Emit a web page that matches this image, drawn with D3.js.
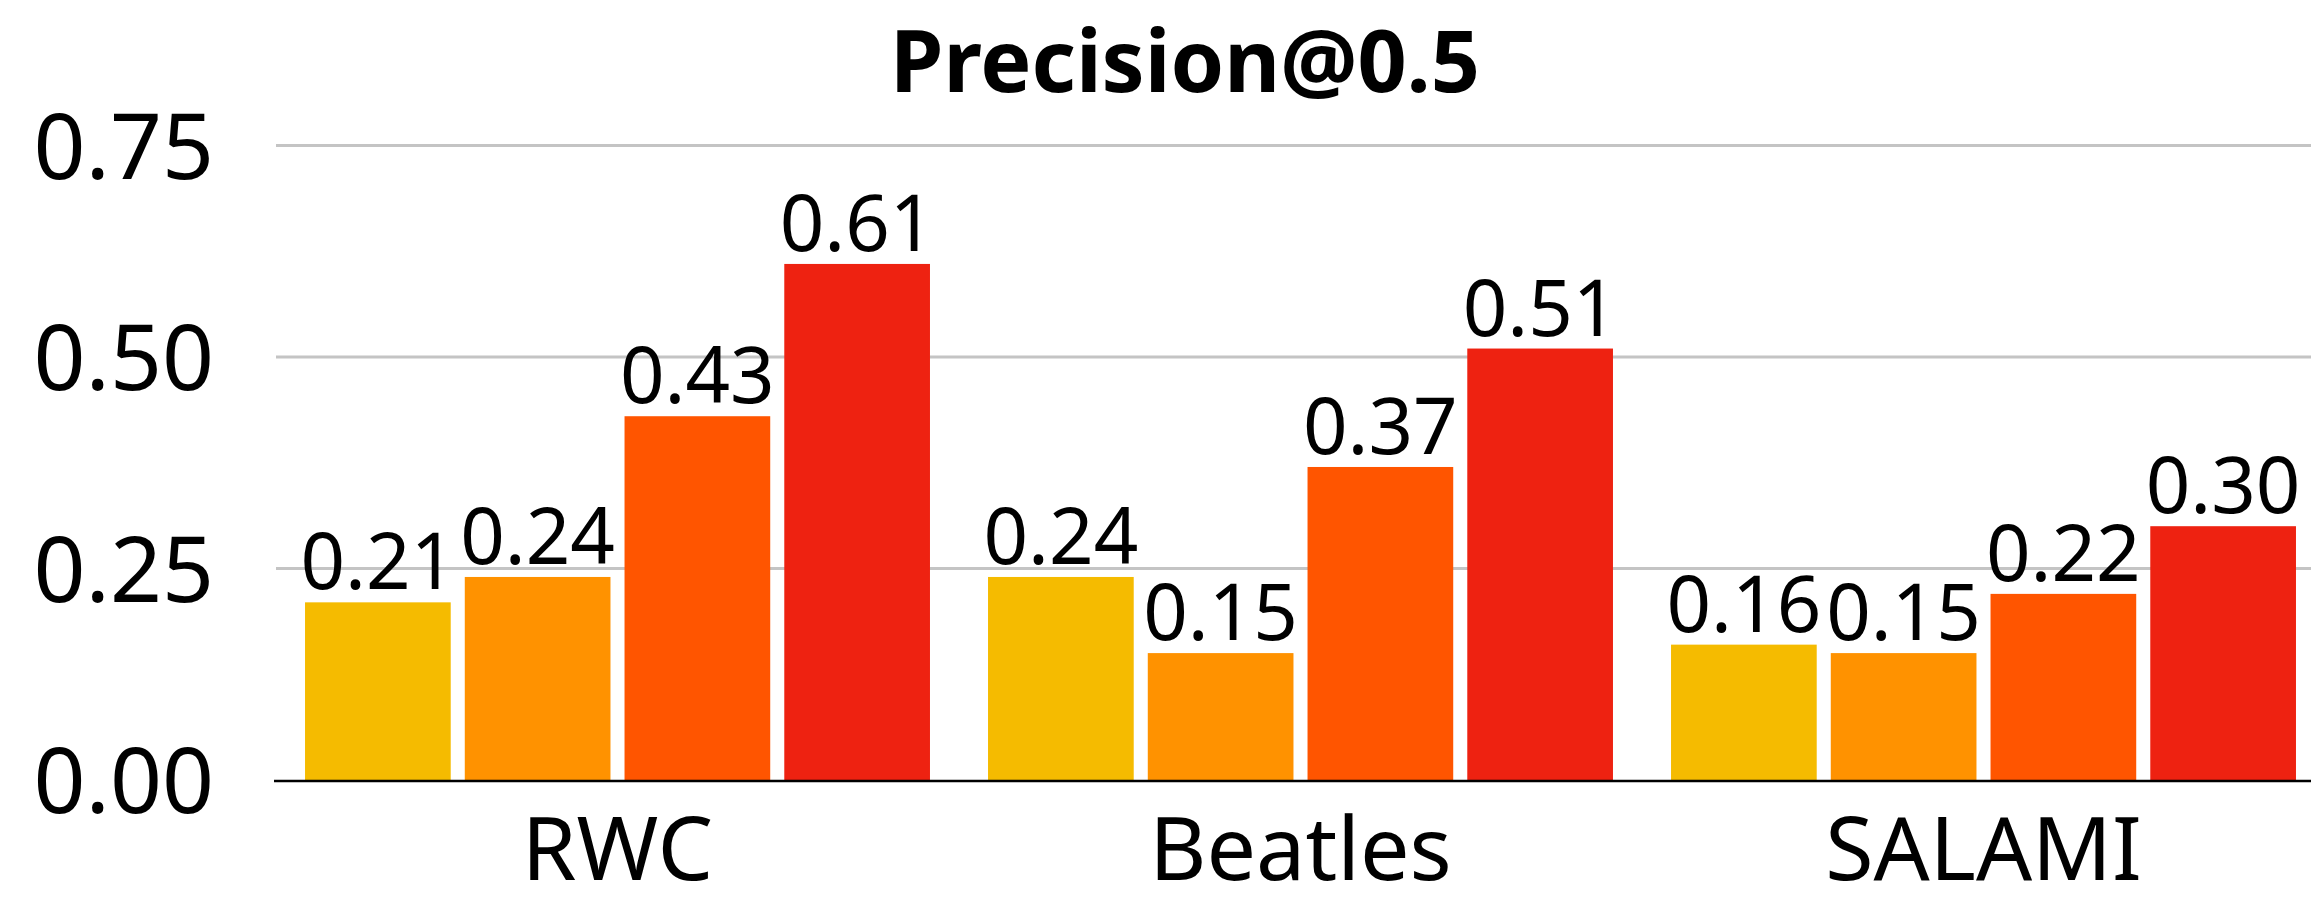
<!DOCTYPE html>
<html>
<head>
<meta charset="utf-8">
<script src="https://cdn.jsdelivr.net/npm/d3@7"></script>
<style>
  html, body { margin: 0; padding: 0; background: #fff; }
  svg { display: block; }
  text { font-family: "Noto Sans", "DejaVu Sans", sans-serif; fill: #000; }
</style>
</head>
<body>
<svg id="chart" width="2311" height="905"></svg>
<script>
// Datasets on the x axis
const categories = ["RWC", "Beatles", "SALAMI"];
// One array per method, values in dataset order
const method1 = [0.21, 0.24, 0.16];
const method2 = [0.24, 0.15, 0.15];
const method3 = [0.43, 0.37, 0.22];
const method4 = [0.61, 0.51, 0.30];
const seriesNames = ["method1", "method2", "method3", "method4"];
const seriesValues = [method1, method2, method3, method4];
const seriesColors = ["#F5BB00", "#FF9200", "#FF5500", "#EE2211"];
const yTicks = [0, 0.25, 0.5, 0.75];
const title = "Precision@0.5";

const W = 2311, H = 905;
const left = 276, right = 2325, y0 = 780, yTop = 145.5;

const svg = d3.select("#chart");

const x = d3.scaleBand().domain(categories).range([left, right])
  .paddingInner(0.085).paddingOuter(0.0425);
const xs = d3.scaleBand().domain(seriesNames).range([0, x.bandwidth()])
  .paddingInner(0.088).paddingOuter(0);
const y = d3.scaleLinear().domain([0, 0.75]).range([y0, yTop]);

// Horizontal gridlines
svg.append("g")
  .selectAll("line")
  .data(yTicks.filter(d => d > 0))
  .join("line")
  .attr("x1", left).attr("x2", W)
  .attr("y1", d => y(d)).attr("y2", d => y(d))
  .attr("stroke", "#c4c4c4").attr("stroke-width", 3);

// Y axis tick labels
const yAxis = d3.axisLeft(y).tickValues(yTicks).tickFormat(d3.format(".2f")).tickSize(0).tickPadding(62);
const yg = svg.append("g").attr("transform", `translate(${left},0)`).call(yAxis);
yg.select(".domain").remove();
yg.selectAll("text").attr("font-size", 91).attr("dy", "0.36em")
  .style("font-family", "'Noto Sans', sans-serif").attr("fill", "#000");

// Bars
const rows = categories.map((c, i) => ({
  cat: c,
  vals: seriesNames.map((s, j) => ({ s, v: seriesValues[j][i], color: seriesColors[j] }))
}));

const groups = svg.append("g").selectAll("g")
  .data(rows).join("g")
  .attr("transform", d => `translate(${x(d.cat)},0)`);

groups.selectAll("rect")
  .data(d => d.vals).join("rect")
  .attr("x", d => xs(d.s))
  .attr("width", xs.bandwidth())
  .attr("y", d => y(d.v))
  .attr("height", d => y(0) - y(d.v))
  .attr("fill", d => d.color);

// Value labels above the bars
groups.selectAll("text")
  .data(d => d.vals).join("text")
  .attr("x", d => xs(d.s) + xs.bandwidth() / 2)
  .attr("y", d => y(d.v) - 13)
  .attr("text-anchor", "middle")
  .attr("font-size", 78)
  .text(d => d3.format(".2f")(d.v));

// Baseline
svg.append("line")
  .attr("x1", left - 2).attr("x2", W)
  .attr("y1", y0 + 1).attr("y2", y0 + 1)
  .attr("stroke", "#000").attr("stroke-width", 2.5);

// Category labels
const xAxis = d3.axisBottom(x).tickSize(0).tickPadding(0);
const xg = svg.append("g").attr("transform", `translate(0,${y0})`).call(xAxis);
xg.select(".domain").remove();
xg.selectAll("text").attr("font-size", 88).attr("dy", 0).attr("y", 100)
  .style("font-family", "'Noto Sans', sans-serif").attr("fill", "#000");

// Title
svg.append("text")
  .attr("x", 1185).attr("y", 92)
  .attr("text-anchor", "middle")
  .attr("font-size", 86).attr("font-weight", 700)
  .text(title);
</script>
</body>
</html>
